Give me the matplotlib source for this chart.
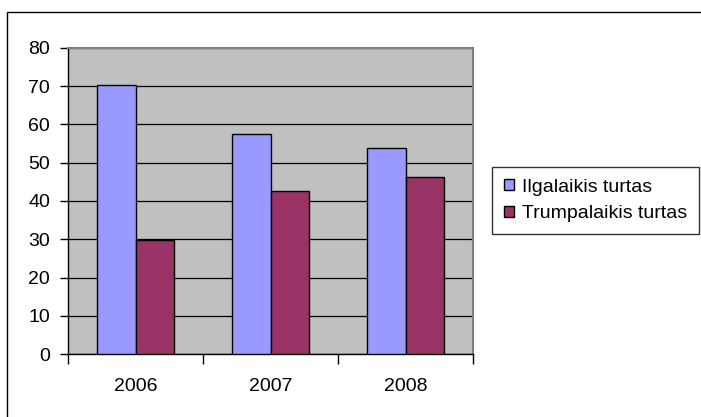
import matplotlib.pyplot as plt
import numpy as np
from matplotlib.patches import Rectangle

years = ["2006", "2007", "2008"]
ilgalaikis = [70.3, 57.4, 53.8]
trumpalaikis = [29.7, 42.6, 46.2]
series_names = ["Ilgalaikis turtas", "Trumpalaikis turtas"]

plt.rcParams['font.family'] = ['Liberation Sans', 'DejaVu Sans']

fig = plt.figure(figsize=(7.01, 4.17), dpi=100)
ax = fig.add_axes([0.097, 0.151, 0.578, 0.734])

x = np.arange(len(years))
w = 1 / 3.5

ax.bar(x - w / 2, ilgalaikis, width=w, color='#9999FF', edgecolor='black',
       linewidth=1.0, label=series_names[0], zorder=3)
ax.bar(x + w / 2, trumpalaikis, width=w, color='#993366', edgecolor='black',
       linewidth=1.0, label=series_names[1], zorder=3)

ax.set_facecolor('#C0C0C0')
ax.set_xlim(-0.5, 2.5)
ax.set_ylim(0, 80)
ax.set_yticks(range(0, 81, 10))
ax.yaxis.grid(True, color='black', linewidth=0.9, zorder=1)
ax.set_axisbelow(True)

# category ticks sit between the groups, labels at group centres
ax.set_xticks([-0.5, 0.5, 1.5, 2.5])
ax.set_xticklabels([])
ax.set_xticks(x, minor=True)
ax.set_xticklabels(years, minor=True)
ax.tick_params(axis='x', which='minor', length=0, pad=17, labelsize=14)
ax.tick_params(axis='x', which='major', length=7, width=1, color='black')
ax.tick_params(axis='y', length=6, width=1, pad=7, labelsize=14)

for s in ['top', 'right']:
    ax.spines[s].set_color('#808080')
    ax.spines[s].set_linewidth(1.5)
for s in ['left', 'bottom']:
    ax.spines[s].set_color('black')
    ax.spines[s].set_linewidth(1.0)

leg = fig.legend(loc='upper left', bbox_to_anchor=(492 / 701, 1 - 167 / 417),
                 fontsize=14, frameon=True, fancybox=False, edgecolor='black',
                 handlelength=0.52, handleheight=0.52, handletextpad=0.44,
                 borderpad=0.6, labelspacing=0.5, borderaxespad=0)
leg.get_frame().set_linewidth(1.0)

# outer chart frame
fig.patches.append(Rectangle((7 / 701, -0.1), 1.1, 1 - 12 / 417 + 0.1,
                             transform=fig.transFigure, fill=False,
                             edgecolor='black', linewidth=1.0))

fig.savefig("out.png", dpi=100)
